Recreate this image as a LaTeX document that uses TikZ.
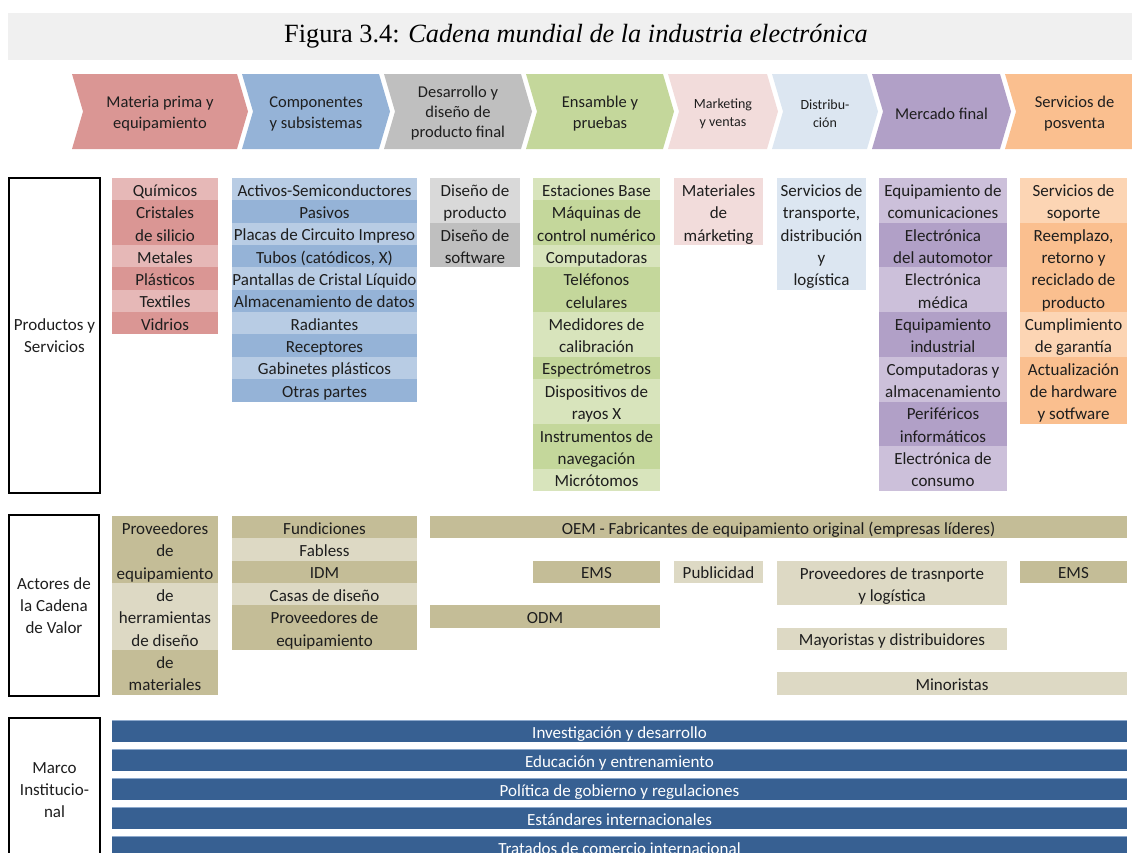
\documentclass[tikz,border=0pt]{standalone}
\usepackage{fontspec}
\setmainfont{Carlito}
\newfontfamily\titlefont{Liberation Serif}

% palette
\definecolor{rawD}{HTML}{DA9694}\definecolor{rawL}{HTML}{E6B8B7}
\definecolor{comD}{HTML}{95B3D7}\definecolor{comL}{HTML}{B8CCE4}
\definecolor{desD}{HTML}{BFBFBF}\definecolor{desL}{HTML}{D9D9D9}
\definecolor{ensD}{HTML}{C4D79B}\definecolor{ensL}{HTML}{D8E4BC}
\definecolor{mkt}{HTML}{F2DCDB}
\definecolor{dis}{HTML}{DCE6F1}
\definecolor{merD}{HTML}{B1A0C7}\definecolor{merL}{HTML}{CCC0DA}
\definecolor{posD}{HTML}{FABF8F}\definecolor{posL}{HTML}{FCD5B4}
\definecolor{actD}{HTML}{C4BD97}\definecolor{actL}{HTML}{DDD9C4}
\definecolor{inst}{HTML}{376092}\definecolor{instedge}{HTML}{8DA9CC}
\definecolor{band}{HTML}{F0F0F0}
\definecolor{ink}{HTML}{1E1E1E}

\newcommand\rowh{22.35}
% invisible rule that fixes line height and depth inside table cells
\newcommand\cellstrut{\rule[-3pt]{0pt}{20pt}}
% table cell: name, x-left, x-right, section top, first row, rows, fill, text
\newcommand\vcell[8]{%
  \fill[#7] (#2,{#4+#5*\rowh}) rectangle (#3,{#4+(#5+#6)*\rowh});
  \node[cellbox, minimum width={(#3-#2)*1pt}, minimum height={#6*\rowh*1pt},
        anchor=north west] (#1) at (#2,{#4+#5*\rowh+(#6>1)*2.8}) {#8};}
% chevron of the value-chain header: name, x-left, x-right, fill, text, text style
\newcommand\chev[6]{%
  \fill[#4] (#2,74) -- (#3,74) -- (#3+11,111.5) -- (#3,149) -- (#2,149) -- (#2+11,111.5) -- cycle;
  \node[chevtext,#6] (#1) at ({(#2+11+#3)/2},113.5) {#5};}

\begin{document}
\begin{tikzpicture}[x=1pt,y=-1pt,
  cellbox/.style={inner sep=0pt, outer sep=0pt, align=center, text=ink,
    font=\fontsize{17}{22.35}\selectfont,
    execute at begin node=\cellstrut, execute at end node=\cellstrut},
  chevtext/.style={inner sep=0pt, align=center, text=ink,
    font=\fontsize{16.5}{21}\selectfont},
  chevsmall/.style={font=\fontsize{14}{18}\selectfont},
  chevtight/.style={font=\fontsize{16.5}{20}\selectfont},
  labelbox/.style={draw=black, line width=2pt, fill=white, inner sep=0pt, align=center,
    anchor=north west, text=ink, font=\fontsize{17}{22}\selectfont},
  instbar/.style={fill=inst, inner sep=0pt, outer sep=0pt, anchor=north west,
    minimum width=1015pt, minimum height=22pt, text=white,
    font=\fontsize{17}{20}\selectfont,
    execute at begin node=\cellstrut},
]
\useasboundingbox (0,0) rectangle (1132,852);

% title band
\fill[band] (8,13) rectangle (1132,60);
\node[font=\titlefont\fontsize{26.3}{30}\selectfont, inner sep=0pt] (title) at (576,36)
  {Figura 3.4: \textit{Cadena mundial de la industria electrónica}};

% value-chain header
\chev{h1}{72}{237}{rawD}{Materia prima y\\equipamiento}{}
\chev{h2}{242}{379}{comD}{Componentes\\y subsistemas}{}
\chev{h3}{384}{521}{desD}{Desarrollo y\\diseño de\\producto final}{chevtight}
\chev{h4}{526}{663}{ensD}{Ensamble y\\pruebas}{}
\chev{h5}{668}{767}{mkt}{Marketing\\y ventas}{chevsmall}
\chev{h6}{772}{867}{dis}{Distribu-\\ción}{chevsmall}
\chev{h7}{872}{1000}{merD}{Mercado final}{}
\chev{h8}{1005}{1133}{posD}{Servicios de\\posventa}{}

% row labels
\node[labelbox, minimum width=91pt, minimum height=315pt] (lblps) at (8,177) {Productos y\\Servicios};
\node[labelbox, minimum width=90pt, minimum height=181pt] (lblac) at (8,514) {Actores de\\la Cadena\\de Valor};
\node[labelbox, minimum width=91pt, minimum height=144pt] (lblmi) at (8,717) {Marco\\Institucio-\\nal};

% ---- products and services
\def\pt{178}
\vcell{p11}{112}{218}{\pt}{0}{1}{rawL}{Químicos}
\vcell{p12}{112}{218}{\pt}{1}{2}{rawD}{Cristales\\de silicio}
\vcell{p13}{112}{218}{\pt}{3}{1}{rawL}{Metales}
\vcell{p14}{112}{218}{\pt}{4}{1}{rawD}{Plásticos}
\vcell{p15}{112}{218}{\pt}{5}{1}{rawL}{Textiles}
\vcell{p16}{112}{218}{\pt}{6}{1}{rawD}{Vidrios}

\vcell{p21}{232}{417}{\pt}{0}{1}{comL}{Activos-Semiconductores}
\vcell{p22}{232}{417}{\pt}{1}{1}{comD}{Pasivos}
\vcell{p23}{232}{417}{\pt}{2}{1}{comL}{Placas de Circuito Impreso}
\vcell{p24}{232}{417}{\pt}{3}{1}{comD}{Tubos (catódicos, X)}
\vcell{p25}{232}{417}{\pt}{4}{1}{comL}{Pantallas de Cristal Líquido}
\vcell{p26}{232}{417}{\pt}{5}{1}{comD}{Almacenamiento de datos}
\vcell{p27}{232}{417}{\pt}{6}{1}{comL}{Radiantes}
\vcell{p28}{232}{417}{\pt}{7}{1}{comD}{Receptores}
\vcell{p29}{232}{417}{\pt}{8}{1}{comL}{Gabinetes plásticos}
\vcell{p210}{232}{417}{\pt}{9}{1}{comD}{Otras partes}

\vcell{p31}{430}{520}{\pt}{0}{2}{desL}{Diseño de\\producto}
\vcell{p32}{430}{520}{\pt}{2}{2}{desD}{Diseño de\\software}

\vcell{p41}{533}{660}{\pt}{0}{1}{ensL}{Estaciones Base}
\vcell{p42}{533}{660}{\pt}{1}{2}{ensD}{Máquinas de\\control numérico}
\vcell{p43}{533}{660}{\pt}{3}{1}{ensL}{Computadoras}
\vcell{p44}{533}{660}{\pt}{4}{2}{ensD}{Teléfonos\\celulares}
\vcell{p45}{533}{660}{\pt}{6}{2}{ensL}{Medidores de\\calibración}
\vcell{p46}{533}{660}{\pt}{8}{1}{ensD}{Espectrómetros}
\vcell{p47}{533}{660}{\pt}{9}{2}{ensL}{Dispositivos de\\rayos X}
\vcell{p48}{533}{660}{\pt}{11}{2}{ensD}{Instrumentos de\\navegación}
\vcell{p49}{533}{660}{\pt}{13}{1}{ensL}{Micrótomos}

\vcell{p51}{674}{763}{\pt}{0}{3}{mkt}{Materiales\\de\\márketing}

\vcell{p61}{777}{866}{\pt}{0}{5}{dis}{Servicios de\\transporte,\\distribución\\y\\logística}

\vcell{p71}{879}{1007}{\pt}{0}{2}{merL}{Equipamiento de\\comunicaciones}
\vcell{p72}{879}{1007}{\pt}{2}{2}{merD}{Electrónica\\del automotor}
\vcell{p73}{879}{1007}{\pt}{4}{2}{merL}{Electrónica\\médica}
\vcell{p74}{879}{1007}{\pt}{6}{2}{merD}{Equipamiento\\industrial}
\vcell{p75}{879}{1007}{\pt}{8}{2}{merL}{Computadoras y\\almacenamiento}
\vcell{p76}{879}{1007}{\pt}{10}{2}{merD}{Periféricos\\informáticos}
\vcell{p77}{879}{1007}{\pt}{12}{2}{merL}{Electrónica de\\consumo}

\vcell{p81}{1020}{1127}{\pt}{0}{2}{posL}{Servicios de\\soporte}
\vcell{p82}{1020}{1127}{\pt}{2}{4}{posD}{Reemplazo,\\retorno y\\reciclado de\\producto}
\vcell{p83}{1020}{1127}{\pt}{6}{2}{posL}{Cumplimiento\\de garantía}
\vcell{p84}{1020}{1127}{\pt}{8}{3}{posD}{Actualización\\de hardware\\y sotfware}

% ---- value-chain actors
\def\at{516}
\vcell{a11}{112}{218}{\at}{0}{3}{actD}{Proveedores\\de\\equipamiento}
\vcell{a12}{112}{218}{\at}{3}{3}{actL}{de\\herramientas\\de diseño}
\vcell{a13}{112}{218}{\at}{6}{2}{actD}{de\\materiales}

\vcell{a21}{232}{417}{\at}{0}{1}{actD}{Fundiciones}
\vcell{a22}{232}{417}{\at}{1}{1}{actL}{Fabless}
\vcell{a23}{232}{417}{\at}{2}{1}{actD}{IDM}
\vcell{a24}{232}{417}{\at}{3}{1}{actL}{Casas de diseño}
\vcell{a25}{232}{417}{\at}{4}{2}{actD}{Proveedores de\\equipamiento}

\vcell{oem}{430}{1127}{\at}{0}{1}{actD}{OEM - Fabricantes de equipamiento original (empresas líderes)}
\vcell{ems1}{533}{660}{\at}{2}{1}{actD}{EMS}
\vcell{pub}{674}{763}{\at}{2}{1}{actL}{Publicidad}
\vcell{trl}{777}{1007}{\at}{2}{2}{actL}{Proveedores de trasnporte\\y logística}
\vcell{ems2}{1020}{1127}{\at}{2}{1}{actD}{EMS}
\vcell{odm}{430}{660}{\at}{4}{1}{actD}{ODM}
\vcell{may}{777}{1007}{\at}{5}{1}{actL}{Mayoristas y distribuidores}
\vcell{min}{777}{1127}{\at}{7}{1}{actL}{Minoristas}

% ---- institutional framework
\foreach \yy/\nm/\txt in {720/i1/Investigación y desarrollo,
                         749/i2/Educación y entrenamiento,
                         778/i3/Política de gobierno y regulaciones,
                         807/i4/Estándares internacionales,
                         836/i5/Tratados de comercio internacional}{
  \node[instbar] (\nm) at (112,\yy) {\txt};
  \draw[instedge, line width=0.8pt] (\nm.north west) -- (\nm.north east);
}
\end{tikzpicture}
\end{document}
